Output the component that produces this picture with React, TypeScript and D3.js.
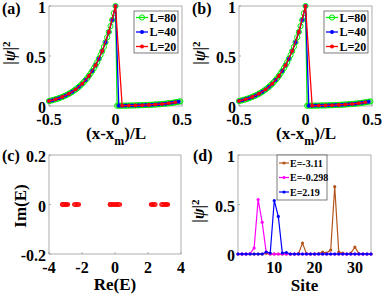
import React from "react";
import * as d3 from "d3";

// |psi|^2 around the peak for three system sizes (peak at index 10, 20, 40)
const psiL20 = [0.05, 0.067, 0.091, 0.122, 0.165, 0.223, 0.301, 0.407, 0.549, 0.741, 1,
  0.0033, 0.0045, 0.0061, 0.0082, 0.0111, 0.015, 0.0202, 0.0273, 0.0369];
const psiL40 = [0.0498, 0.0578, 0.0672, 0.0781, 0.0907, 0.1054, 0.1225, 0.1423, 0.1653, 0.192,
  0.2231, 0.2592, 0.3012, 0.3499, 0.4066, 0.4724, 0.5488, 0.6376, 0.7408, 0.8607, 1,
  0.0029, 0.0034, 0.0039, 0.0045, 0.0053, 0.0061, 0.0071, 0.0082, 0.0096, 0.0111, 0.0129,
  0.015, 0.0174, 0.0202, 0.0235, 0.0273, 0.0317, 0.0369, 0.0429];
const psiL80 = [0.0498, 0.0537, 0.0578, 0.0623, 0.0672, 0.0724, 0.0781, 0.0842, 0.0907, 0.0978,
  0.1054, 0.1136, 0.1225, 0.132, 0.1423, 0.1534, 0.1653, 0.1782, 0.192, 0.207,
  0.2231, 0.2405, 0.2592, 0.2794, 0.3012, 0.3247, 0.3499, 0.3772, 0.4066, 0.4382,
  0.4724, 0.5092, 0.5488, 0.5916, 0.6376, 0.6873, 0.7408, 0.7985, 0.8607, 0.9277, 1,
  0.0027, 0.0029, 0.0031, 0.0034, 0.0036, 0.0039, 0.0042, 0.0045, 0.0049, 0.0053,
  0.0057, 0.0061, 0.0066, 0.0071, 0.0076, 0.0082, 0.0089, 0.0096, 0.0103, 0.0111,
  0.012, 0.0129, 0.0139, 0.015, 0.0162, 0.0174, 0.0188, 0.0202, 0.0218, 0.0235,
  0.0253, 0.0273, 0.0295, 0.0317, 0.0342, 0.0369, 0.0397, 0.0429, 0.0462];

const sizeSeries = [
  { label: "L=80", L: 80, peak: 40, values: psiL80, color: "#00ee00", marker: "open" },
  { label: "L=40", L: 40, peak: 20, values: psiL40, color: "#0000ff", marker: "dot" },
  { label: "L=20", L: 20, peak: 10, values: psiL20, color: "#ff0000", marker: "small" },
];

// eigenvalues (all real)
const reE = [-3.2, -3.16, -3.11, -3.05, -2.98, -2.92, -2.86,
  -2.46, -2.4, -2.33, -2.26, -2.2,
  -0.3, -0.298, -0.22, -0.15, -0.08, 0, 0.08, 0.15, 0.22, 0.29,
  2.19, 2.25, 2.31, 2.38, 2.44,
  2.82, 2.88, 2.95, 3.02, 3.08, 3.14, 3.2];
const imE = reE.map(() => 0);

// site-resolved |psi|^2, sites 1..34
const sites = d3.range(1, 35);
const psiE311 = [0, 0, 0, 0, 0, 0, 0, 0.008, 0, 0, 0, 0, 0, 0, 0, 0.004, 0.11, 0.004, 0, 0,
  0.004, 0.02, 0.01, 0.04, 0.68, 0.02, 0.01, 0, 0.01, 0.07, 0.004, 0, 0, 0];
const psiE0298 = [0, 0, 0, 0.005, 0.06, 0.55, 0.32, 0.02, 0, 0, 0, 0, 0, 0, 0, 0, 0, 0, 0, 0,
  0, 0, 0, 0, 0, 0, 0, 0, 0, 0, 0, 0, 0, 0];
const psiE219 = [0, 0, 0, 0, 0, 0, 0, 0.02, 0.01, 0.54, 0.38, 0.01, 0.015, 0, 0, 0, 0, 0, 0, 0,
  0, 0, 0, 0, 0, 0, 0, 0, 0, 0, 0, 0, 0, 0];
const siteSeries = [
  { label: "E=-3.11", values: psiE311, color: "#b4561c" },
  { label: "E=-0.298", values: psiE0298, color: "#ff00ff" },
  { label: "E=2.19", values: psiE219, color: "#0000ff" },
];

const FONT = "'Liberation Serif', 'Times New Roman', serif";
const AXIS = "#9a9a9a";

type Lin = d3.ScaleLinear<number, number>;

const Frame = ({ x, y, xt, yt, fmt }: { x: Lin; y: Lin; xt: number[]; yt: number[]; fmt: (v: number) => string }) => {
  const [x0, x1] = x.range();
  const [y0, y1] = y.range();
  return (
    <g fontFamily={FONT} fontWeight="bold" fontSize={16} fill="#000">
      <rect x={x0} y={y1} width={x1 - x0} height={y0 - y1} fill="#fff" stroke={AXIS} strokeWidth={0.8} />
      {xt.map((t) => (
        <g key={"x" + t}>
          <line x1={x(t)} x2={x(t)} y1={y0} y2={y0 - 2} stroke={AXIS} strokeWidth={0.8} />
          <text x={x(t)} y={y0 + 19} textAnchor="middle">{fmt(t)}</text>
        </g>
      ))}
      {yt.map((t) => (
        <g key={"y" + t}>
          <line x1={x0} x2={x0 + 2} y1={y(t)} y2={y(t)} stroke={AXIS} strokeWidth={0.8} />
          <text x={x0 - 3} y={y(t) + 7} textAnchor="end">{fmt(t)}</text>
        </g>
      ))}
    </g>
  );
};

const PsiLabel = ({ cx, cy }: { cx: number; cy: number }) => (
  <text transform={`translate(${cx},${cy}) rotate(-90)`} textAnchor="middle" fontFamily={FONT} fontWeight="bold" fontSize={16}>
    |<tspan fontStyle="italic">ψ</tspan>|<tspan dy={-5} fontSize={11}>2</tspan>
  </text>
);

const fmt = (v: number) => (v === 0 ? "0" : String(v));

const SizePanel = ({ left, tag }: { left: number; tag: string }) => {
  const x = d3.scaleLinear().domain([-0.5, 0.5]).range([left, left + 133]);
  const y = d3.scaleLinear().domain([0, 1]).range([106, 6]);
  const line = d3.line<number>();
  const lg = { x: left + 85, y: 11, w: 44, h: 42 };
  return (
    <g>
      <Frame x={x} y={y} xt={[-0.5, 0, 0.5]} yt={[0, 0.5, 1]} fmt={fmt} />
      {sizeSeries.map((s) => {
        const pts = s.values.map((v, i) => [x((i - s.peak) / s.L), y(v)] as [number, number]);
        return (
          <g key={s.label}>
            <path d={line(pts) ?? ""} fill="none" stroke={s.color} strokeWidth={1.3} />
            {pts.map((p, i) =>
              s.marker === "open" ? (
                <circle key={i} cx={p[0]} cy={p[1]} r={2.6} fill="none" stroke={s.color} strokeWidth={1} />
              ) : (
                <circle key={i} cx={p[0]} cy={p[1]} r={s.marker === "dot" ? 2 : 1.8} fill={s.color} />
              )
            )}
          </g>
        );
      })}
      <rect x={lg.x} y={lg.y} width={lg.w} height={lg.h} fill="#fff" stroke="#444" strokeWidth={0.7} />
      {sizeSeries.map((s, i) => {
        const ly = lg.y + 6.5 + i * 14.5;
        return (
          <g key={"lg" + s.label}>
            <line x1={lg.x + 2} x2={lg.x + 14} y1={ly} y2={ly} stroke={s.color} strokeWidth={1.3} />
            {s.marker === "open" ? (
              <circle cx={lg.x + 8} cy={ly} r={2.6} fill="none" stroke={s.color} strokeWidth={1} />
            ) : (
              <circle cx={lg.x + 8} cy={ly} r={2} fill={s.color} />
            )}
            <text x={lg.x + 15.5} y={ly + 4} fontFamily={FONT} fontWeight="bold" fontSize={12}>{s.label}</text>
          </g>
        );
      })}
      <text x={left - 47} y={14} fontFamily={FONT} fontWeight="bold" fontSize={16}>{tag}</text>
      <PsiLabel cx={left - 34} cy={53} />
      <text x={left + 67} y={139} textAnchor="middle" fontFamily={FONT} fontWeight="bold" fontSize={17}>
        (x-x<tspan dy={6} fontSize={12}>m</tspan><tspan dy={-6}>)/L</tspan>
      </text>
    </g>
  );
};

const SpectrumPanel = () => {
  const x = d3.scaleLinear().domain([-4, 4]).range([49, 181]);
  const y = d3.scaleLinear().domain([-0.2, 0.2]).range([254, 155]);
  return (
    <g>
      <Frame x={x} y={y} xt={[-4, -2, 0, 2, 4]} yt={[-0.2, 0, 0.2]} fmt={fmt} />
      {reE.map((r, i) => (
        <circle key={i} cx={x(r)} cy={y(imE[i])} r={1.8} fill="none" stroke="#ff0000" strokeWidth={1.1} />
      ))}
      <text x={2} y={161} fontFamily={FONT} fontWeight="bold" fontSize={16}>(c)</text>
      <text transform="translate(21,206) rotate(-90)" dy={5} textAnchor="middle" fontFamily={FONT} fontWeight="bold" fontSize={17}>Im(E)</text>
      <text x={115} y={290} textAnchor="middle" fontFamily={FONT} fontWeight="bold" fontSize={17}>Re(E)</text>
    </g>
  );
};

const SitePanel = () => {
  const x = d3.scaleLinear().domain([1, 34]).range([238, 371]);
  const y = d3.scaleLinear().domain([0, 1]).range([254, 155]);
  const line = d3.line<number>();
  const lg = { x: 277, y: 155, w: 50, h: 45 };
  return (
    <g>
      <Frame x={x} y={y} xt={[10, 20, 30]} yt={[0, 0.5, 1]} fmt={fmt} />
      {siteSeries.map((s) => {
        const pts = s.values.map((v, i) => [x(sites[i]), y(v)] as [number, number]);
        return (
          <g key={s.label}>
            <path d={line(pts) ?? ""} fill="none" stroke={s.color} strokeWidth={1.2} />
            {pts.map((p, i) => (
              <circle key={i} cx={p[0]} cy={p[1]} r={1.6} fill={s.color} />
            ))}
          </g>
        );
      })}
      <rect x={lg.x} y={lg.y} width={lg.w} height={lg.h} fill="#fff" stroke="#444" strokeWidth={0.7} />
      {siteSeries.map((s, i) => {
        const ly = lg.y + 8 + i * 14.5;
        return (
          <g key={"lg" + s.label}>
            <line x1={lg.x + 2} x2={lg.x + 12} y1={ly} y2={ly} stroke={s.color} strokeWidth={1.2} />
            <circle cx={lg.x + 7} cy={ly} r={1.6} fill={s.color} />
            <text x={lg.x + 13} y={ly + 3.5} fontFamily={FONT} fontWeight="bold" fontSize={10}>{s.label}</text>
          </g>
        );
      })}
      <text x={193} y={161} fontFamily={FONT} fontWeight="bold" fontSize={16}>(d)</text>
      <PsiLabel cx={204} cy={211} />
      <text x={304.5} y={291} textAnchor="middle" fontFamily={FONT} fontWeight="bold" fontSize={17}>Site</text>
    </g>
  );
};

export default function App() {
  return (
    <svg width={382} height={295} style={{ position: "absolute", left: 0, top: 0, background: "#fff" }}>
      <SizePanel left={49} tag="(a)" />
      <SizePanel left={239} tag="(b)" />
      <SpectrumPanel />
      <SitePanel />
    </svg>
  );
}
